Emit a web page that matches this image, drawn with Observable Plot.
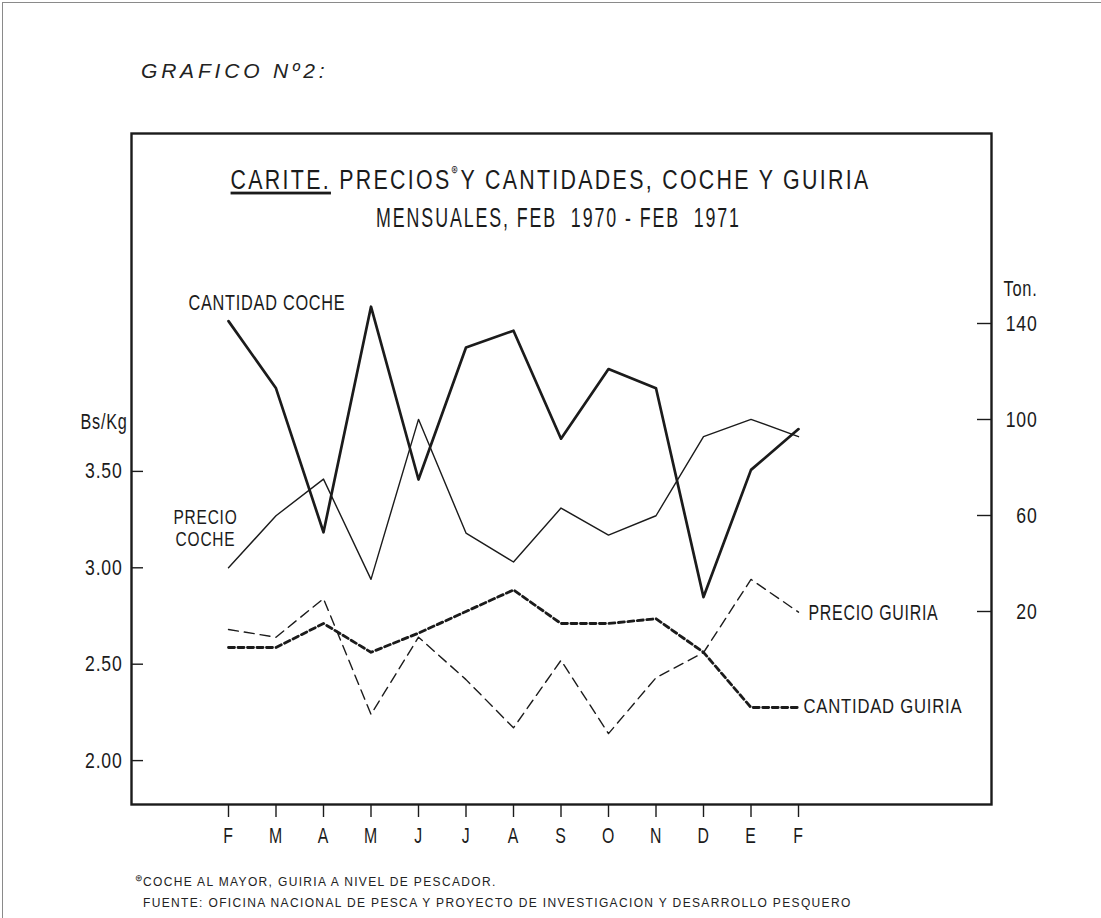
<!DOCTYPE html>
<html>
<head>
<meta charset="utf-8">
<script src="https://cdn.jsdelivr.net/npm/d3@7"></script>
<script src="https://cdn.jsdelivr.net/npm/@observablehq/plot@0.6"></script>
<style>
  html, body { margin: 0; padding: 0; background: #fff; }
  #page { position: relative; width: 1101px; height: 918px; overflow: hidden; background: #fff; }
  #border { position: absolute; left: 2px; top: 2px; right: -5px; bottom: -5px;
            border-left: 1px solid #8a8a8a; border-top: 1px solid #8a8a8a; pointer-events: none; }
  #head { position: relative; height: 99px; }
  #head span { position: absolute; left: 141px; top: 59px; line-height: 21px;
               font: italic 21px "Liberation Sans", Arial, sans-serif; letter-spacing: 3.8px; color: #222; }
  #chart svg { display: block; }
  #foot { position: relative; padding-left: 143px; padding-top: 2px; font: 12px "Liberation Sans", Arial, sans-serif;
          letter-spacing: 1.35px; color: #222; }
  #foot div { line-height: 20px; white-space: nowrap; }
  #foot .sym { font-size: 9px; position: relative; top: -5px; margin-left: -8px; letter-spacing: 0; }
</style>
</head>
<body>
<div id="page">
  <div id="border"></div>
  <div id="head"><span id="grafico"></span></div>
  <div id="chart"></div>
  <div id="foot"></div>
</div>
<script>
// ---------- data ----------
const months = ["F", "M", "A", "M", "J", "J", "A", "S", "O", "N", "D", "E", "F"];
const precioCoche    = [3.00, 3.27, 3.46, 2.94, 3.77, 3.18, 3.03, 3.31, 3.17, 3.27, 3.68, 3.77, 3.68]; // Bs/Kg
const precioGuiria   = [2.68, 2.64, 2.84, 2.24, 2.64, 2.42, 2.17, 2.52, 2.14, 2.43, 2.56, 2.94, 2.77]; // Bs/Kg
const cantidadCoche  = [141, 113, 53, 147, 75, 130, 137, 92, 121, 113, 26, 79, 96];                   // Ton.
const cantidadGuiria = [5, 5, 15, 3, 11, 20, 29, 15, 15, 17, 3, -20, -20];                            // Ton.
const priceTicks = [2.00, 2.50, 3.00, 3.50];
const tonTicks = [20, 60, 100, 140];
const titleParts = ["CARITE.", " PRECIOS", "\u229B", "Y CANTIDADES, COCHE Y GUIRIA"];
const title2 = "MENSUALES, FEB  1970 - FEB  1971";
const heading = "GRAFICO N\u00BA2:";
const leftUnit = "Bs/Kg";
const rightUnit = "Ton.";
const labels = {
  cantidadCoche: "CANTIDAD COCHE",
  precioCoche: "PRECIO\nCOCHE",
  precioGuiria: "PRECIO GUIRIA",
  cantidadGuiria: "CANTIDAD GUIRIA"
};
const footnotes = ["COCHE AL MAYOR, GUIRIA A NIVEL DE PESCADOR.",
  "FUENTE: OFICINA NACIONAL DE PESCA Y PROYECTO DE INVESTIGACION Y DESARROLLO PESQUERO"];

// ---------- scales ----------
// Right axis (tons) drawn against the left (Bs/Kg) scale
const tonToPrice = d3.scaleLinear().domain([0, 100]).range([2.5244, 3.7692]);
const idx = months.map((_, i) => i);
const last = months.length - 1;
const ink = "#1b1b1b";
const font = "'Liberation Sans', Arial, sans-serif";
const title1 = titleParts.join("");

const plot = Plot.plot({
  width: 1101,
  height: 771,
  marginLeft: 131,
  marginRight: 110,
  marginTop: 34,
  marginBottom: 66,
  x: { type: "linear", domain: [-2.042, 16.063] },
  y: { type: "linear", domain: [1.7723, 5.2526] },
  style: { fontFamily: font, fontSize: "22px", color: ink, background: "#fff", overflow: "visible", letterSpacing: "1px" },
  marks: [
    Plot.frame({ stroke: ink, strokeWidth: 2.4 }),
    // left axis (Bs/Kg)
    Plot.axisY({ anchor: "left", ticks: priceTicks, tickFormat: d3.format(".2f"),
                 tickSize: -12, tickPadding: 21, strokeWidth: 1.4 }),
    // right axis (Ton.)
    Plot.axisY({ anchor: "right", ticks: tonTicks.map(tonToPrice),
                 tickFormat: d => String(Math.round(tonToPrice.invert(d))),
                 tickSize: -15, tickPadding: 61, textAnchor: "end", strokeWidth: 1.4 }),
    // bottom axis (months)
    Plot.axisX({ ticks: idx, tickFormat: i => months[i], tickSize: 13, tickPadding: 10, strokeWidth: 1.4 }),
    // unit labels
    Plot.text([leftUnit], { frameAnchor: "top-left", dx: -4, dy: 280, textAnchor: "end", text: d => d }),
    Plot.text([rightUnit], { frameAnchor: "top-right", dx: 46, dy: 147, textAnchor: "end", text: d => d }),
    // title inside frame
    Plot.text([title1], { frameAnchor: "top", dx: -11, dy: 36, text: d => d, fontSize: 28 }),
    Plot.text([title2], { frameAnchor: "top", dx: -3, dy: 74, text: d => d, fontSize: 28 }),
    // series
    Plot.line(precioCoche, { x: (d, i) => i, y: d => d, stroke: ink, strokeWidth: 1.4 }),
    Plot.line(cantidadCoche, { x: (d, i) => i, y: d => tonToPrice(d), stroke: ink, strokeWidth: 2.7 }),
    Plot.line(precioGuiria, { x: (d, i) => i, y: d => d, stroke: ink, strokeWidth: 1.4, strokeDasharray: "10,6" }),
    Plot.line(cantidadGuiria, { x: (d, i) => i, y: d => tonToPrice(d), stroke: ink, strokeWidth: 2.8, strokeDasharray: "6,3.5" }),
    // series labels
    Plot.text([0], { x: i => i, y: i => tonToPrice(cantidadCoche[i]), text: () => labels.cantidadCoche,
                     dx: -40, dy: -18, textAnchor: "start", fontSize: 22 }),
    Plot.text([0], { x: i => i, y: i => precioCoche[i], text: () => labels.precioCoche,
                     dx: -23, dy: -40, textAnchor: "middle", lineHeight: 1.1, fontSize: 20 }),
    Plot.text([last], { x: i => i, y: i => precioGuiria[i], text: () => labels.precioGuiria,
                     dx: 10, dy: 1, textAnchor: "start", fontSize: 22 }),
    Plot.text([last], { x: i => i, y: i => tonToPrice(cantidadGuiria[i]), text: () => labels.cantidadGuiria,
                     dx: 5, dy: -1, textAnchor: "start", fontSize: 21 })
  ]
});

document.getElementById("chart").appendChild(plot);

// title styling: underline "CARITE." and superscript mark after PRECIOS
const ns = "http://www.w3.org/2000/svg";
plot.querySelectorAll("text").forEach(t => {
  if (t.textContent === title1) {
    t.textContent = "";
    t.style.letterSpacing = "3px";
    const a = document.createElementNS(ns, "tspan");
    a.textContent = titleParts[0];
    a.setAttribute("text-decoration", "underline");
    const b = document.createElementNS(ns, "tspan");
    b.textContent = titleParts[1];
    const c = document.createElementNS(ns, "tspan");
    c.textContent = titleParts[2];
    c.setAttribute("font-size", "11");
    c.setAttribute("dy", "-16");
    const e = document.createElementNS(ns, "tspan");
    e.textContent = titleParts[3];
    e.setAttribute("dy", "16");
    [a, b, c, e].forEach(s => t.appendChild(s));
    t.dataset.w = 640;
  } else if (t.textContent === title2) {
    t.style.letterSpacing = "3px";
    t.style.whiteSpace = "pre";
    t.dataset.w = 365;
  }
});

// condensed lettering: squeeze texts horizontally about their anchor
function squeeze(t, s) {
  const bb = t.getBBox();
  const anchor = t.getAttribute("text-anchor") || getComputedStyle(t).textAnchor || "start";
  const ax = anchor === "end" ? bb.x + bb.width : anchor === "middle" ? bb.x + bb.width / 2 : bb.x;
  const tr = t.getAttribute("transform") || "";
  t.setAttribute("transform", `${tr} translate(${ax},0) scale(${s},1) translate(${-ax},0)`);
}
function squeezeTo(t, w) { squeeze(t, w / t.getBBox().width); }

const widths = {
  [labels.cantidadCoche]: 157, [labels.precioGuiria]: 130, [labels.cantidadGuiria]: 159,
  [leftUnit]: 47, [rightUnit]: 34
};
plot.querySelectorAll("text").forEach(t => {
  if (t.dataset.w) { squeezeTo(t, +t.dataset.w); return; }
  const txt = t.textContent;
  if (widths[txt]) { squeezeTo(t, widths[txt]); return; }
  if (t.querySelectorAll("tspan").length === 2 && txt.startsWith("PRECIO")) { squeezeTo(t, 64); return; }
});
plot.querySelectorAll('g[aria-label="y-axis tick label"] text').forEach(t => squeeze(t, 0.8));
plot.querySelectorAll('g[aria-label="x-axis tick label"] text').forEach(t => squeeze(t, 0.72));

document.getElementById("grafico").textContent = heading;
const foot = document.getElementById("foot");
footnotes.forEach((f, i) => {
  const d = document.createElement("div");
  if (i === 0) {
    const s = document.createElement("span");
    s.className = "sym";
    s.textContent = titleParts[2];
    d.appendChild(s);
  }
  d.appendChild(document.createTextNode(f));
  foot.appendChild(d);
});
</script>
</body>
</html>
